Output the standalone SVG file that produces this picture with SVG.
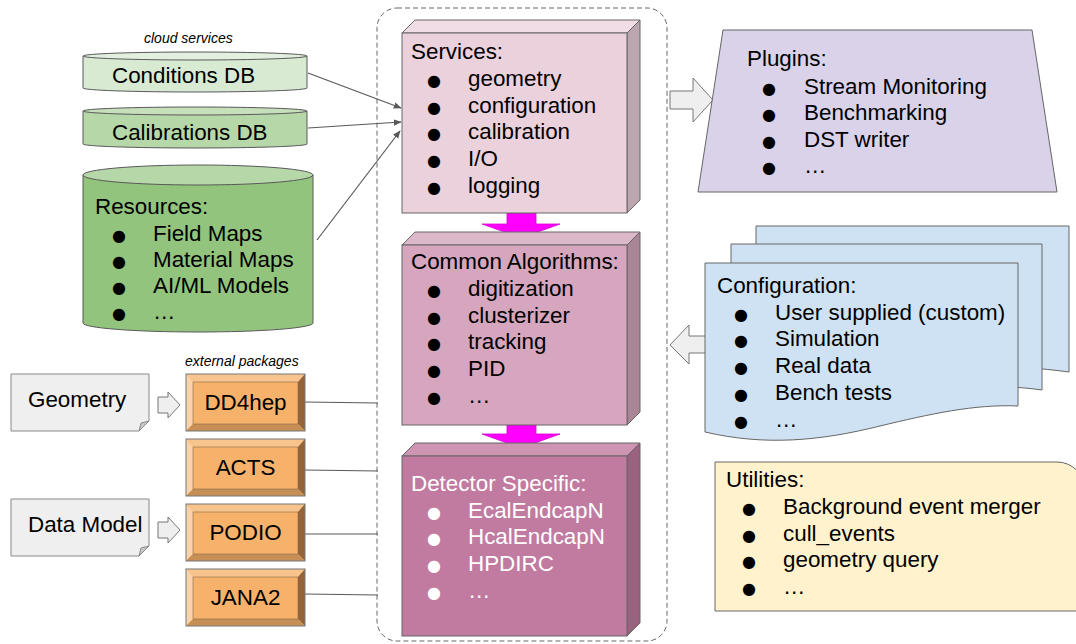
<svg xmlns="http://www.w3.org/2000/svg" width="1076" height="644" viewBox="0 0 1076 644">
<defs>
<style>
.t{font-family:"Liberation Sans",Arial,sans-serif;font-size:22.4px;fill:#000}
.w{fill:#fff}
.it{font-family:"Liberation Sans",Arial,sans-serif;font-size:14px;font-style:italic;fill:#000}
.b{font-family:"DejaVu Sans",sans-serif;font-size:16px}
.ln{stroke:#595959;stroke-width:1.2;fill:none}
.ed{stroke:#666;stroke-width:1}
.blk{fill:#efefef;stroke:#777;stroke-width:1}
.mag{fill:#ff00ff;stroke:#d000d0;stroke-width:0.8}
</style>
<marker id="ah" viewBox="0 0 10 10" refX="9" refY="5" markerWidth="8" markerHeight="8" markerUnits="userSpaceOnUse" orient="auto">
<path d="M0,1 L10,5 L0,9 Z" fill="#595959"/>
</marker>
</defs>
<rect width="1076" height="644" fill="#fff"/>

<g id="container">
<rect x="377" y="8" width="290" height="633" rx="20" fill="none" stroke="#666" stroke-width="1" stroke-dasharray="5,3"/>
</g>

<g id="connectors">
<line class="ln" x1="308" y1="73" x2="401" y2="108" marker-end="url(#ah)"/>
<line class="ln" x1="308" y1="128" x2="401" y2="122" marker-end="url(#ah)"/>
<line class="ln" x1="317" y1="240" x2="400" y2="131" marker-end="url(#ah)"/>
<line class="ln" x1="305" y1="402" x2="378" y2="403"/>
<line class="ln" x1="305" y1="470" x2="378" y2="471"/>
<line class="ln" x1="305" y1="534" x2="378" y2="534"/>
<line class="ln" x1="305" y1="594" x2="378" y2="595"/>
<polygon class="blk" points="158,397 168,397 168,392 180,405 168,418 168,413 158,413"/>
<polygon class="blk" points="158,522 168,522 168,517 180,530 168,543 168,538 158,538"/>
<polygon class="blk" points="670,91 693,91 693,78 713,100 693,122 693,109 670,109"/>
<polygon class="blk" points="670,345 689,325 689,336 706,336 706,353 689,353 689,364"/>
<polygon class="mag" points="507,213 536,213 536,224 560,224 521,238 482,224 507,224"/>
<polygon class="mag" points="507,425 536,425 536,434 560,434 521,448 482,434 507,434"/>
</g>

<g id="cloud-label"><text class="it" x="144" y="43">cloud services</text></g>

<g id="conditions-db">
<path d="M83,56 V88 A112,4 0 0 0 307,88 V56" fill="#d9ead3" stroke="#595959"/>
<ellipse cx="195" cy="56" rx="112" ry="4" fill="#e4f0df" stroke="#595959"/>
<text class="t" x="112" y="83">Conditions DB</text>
</g>

<g id="calibrations-db">
<path d="M83,111 V144 A112,4 0 0 0 307,144 V111" fill="#b6d7a8" stroke="#595959"/>
<ellipse cx="195" cy="111" rx="112" ry="4" fill="#c6e0bb" stroke="#595959"/>
<text class="t" x="112" y="140">Calibrations DB</text>
</g>

<g id="resources">
<path d="M83,175 V323 A115,9 0 0 0 313,323 V175" fill="#93c47d" stroke="#595959"/>
<ellipse cx="198" cy="175" rx="115" ry="10" fill="#b6d7a8" stroke="#595959"/>
<text class="t" x="95" y="214">Resources:</text>
<text class="b" x="112" y="241">●</text><text class="t" x="153" y="241">Field Maps</text>
<text class="b" x="112" y="267">●</text><text class="t" x="153" y="267">Material Maps</text>
<text class="b" x="112" y="293">●</text><text class="t" x="153" y="293">AI/ML Models</text>
<text class="b" x="112" y="319">●</text><text class="t" x="153" y="319">…</text>
</g>

<g id="services">
<polygon class="ed" points="402,33 415,20 640,20 627,33" fill="#f0dde6"/>
<polygon class="ed" points="627,33 640,20 640,200 627,213" fill="#bba6b0"/>
<rect class="ed" x="402" y="33" width="225" height="180" fill="#ead1dc"/>
<text class="t" x="411" y="59">Services:</text>
<text class="b" x="427" y="86">●</text><text class="t" x="468" y="86">geometry</text>
<text class="b" x="427" y="113">●</text><text class="t" x="468" y="113">configuration</text>
<text class="b" x="427" y="139">●</text><text class="t" x="468" y="139">calibration</text>
<text class="b" x="427" y="166">●</text><text class="t" x="468" y="166">I/O</text>
<text class="b" x="427" y="193">●</text><text class="t" x="468" y="193">logging</text>
</g>

<g id="common-algorithms">
<polygon class="ed" points="402,245 415,232 640,232 627,245" fill="#ddb8ca"/>
<polygon class="ed" points="627,245 640,232 640,412 627,425" fill="#aa8597"/>
<rect class="ed" x="402" y="245" width="225" height="180" fill="#d5a6bd"/>
<text class="t" x="411" y="269">Common Algorithms:</text>
<text class="b" x="427" y="296">●</text><text class="t" x="468" y="296">digitization</text>
<text class="b" x="427" y="323">●</text><text class="t" x="468" y="323">clusterizer</text>
<text class="b" x="427" y="349">●</text><text class="t" x="468" y="349">tracking</text>
<text class="b" x="427" y="376">●</text><text class="t" x="468" y="376">PID</text>
<text class="b" x="427" y="403">●</text><text class="t" x="468" y="403">…</text>
</g>

<g id="detector-specific">
<polygon class="ed" points="402,456 415,443 640,443 627,456" fill="#ce95b3"/>
<polygon class="ed" points="627,456 640,443 640,623 627,636" fill="#9b6280"/>
<rect class="ed" x="402" y="456" width="225" height="180" fill="#c27ba0"/>
<text class="t w" x="411" y="491">Detector Specific:</text>
<text class="b w" x="427" y="518">●</text><text class="t w" x="468" y="518">EcalEndcapN</text>
<text class="b w" x="427" y="544">●</text><text class="t w" x="468" y="544">HcalEndcapN</text>
<text class="b w" x="427" y="571">●</text><text class="t w" x="468" y="571">HPDIRC</text>
<text class="b w" x="427" y="598">●</text><text class="t w" x="468" y="598">…</text>
</g>

<g id="plugins">
<polygon points="723,30 1032,30 1057,192 698,192" fill="#d9d2e9" stroke="#666"/>
<text class="t" x="747" y="66">Plugins:</text>
<text class="b" x="762" y="94">●</text><text class="t" x="804" y="94">Stream Monitoring</text>
<text class="b" x="762" y="120">●</text><text class="t" x="804" y="120">Benchmarking</text>
<text class="b" x="762" y="147">●</text><text class="t" x="804" y="147">DST writer</text>
<text class="b" x="762" y="173">●</text><text class="t" x="804" y="173">…</text>
</g>

<g id="configuration">
<path d="M756,226 H1069 V372 C1040,368 1010,366 990,368 L756,368 Z" fill="#cfe2f3" stroke="#666"/>
<path d="M731,244 H1042 V390 C1015,386 990,386 960,390 L731,390 Z" fill="#cfe2f3" stroke="#666"/>
<path d="M705,263 H1018 V406 C975,404 930,414 880,426 C820,441 765,446 705,432 Z" fill="#cfe2f3" stroke="#666"/>
<text class="t" x="717" y="293">Configuration:</text>
<text class="b" x="734" y="320">●</text><text class="t" x="775" y="320">User supplied (custom)</text>
<text class="b" x="734" y="346">●</text><text class="t" x="775" y="346">Simulation</text>
<text class="b" x="734" y="373">●</text><text class="t" x="775" y="373">Real data</text>
<text class="b" x="734" y="400">●</text><text class="t" x="775" y="400">Bench tests</text>
<text class="b" x="734" y="427">●</text><text class="t" x="775" y="427">…</text>
</g>

<g id="utilities">
<path d="M715,462 H1057 A28,28 0 0 1 1085,490 V611 H715 Z" fill="#fff2cc" stroke="#666"/>
<text class="t" x="726" y="487">Utilities:</text>
<text class="b" x="742" y="514">●</text><text class="t" x="783" y="514">Background event merger</text>
<text class="b" x="742" y="541">●</text><text class="t" x="783" y="541">cull_events</text>
<text class="b" x="742" y="567">●</text><text class="t" x="783" y="567">geometry query</text>
<text class="b" x="742" y="594">●</text><text class="t" x="783" y="594">…</text>
</g>

<g id="external-label"><text class="it" x="185" y="366">external packages</text></g>

<g id="geometry-note">
<path d="M11,374 H149 V421 L139,431 H11 Z" fill="#efefef" stroke="#888"/>
<path d="M139,431 L141,423 L149,421 Z" fill="#c8c8c8" stroke="#888"/>
<text class="t" x="28" y="407">Geometry</text>
</g>

<g id="datamodel-note">
<path d="M11,499 H149 V546 L139,556 H11 Z" fill="#efefef" stroke="#888"/>
<path d="M139,556 L141,548 L149,546 Z" fill="#c8c8c8" stroke="#888"/>
<text class="t" x="28" y="532">Data Model</text>
</g>

<g id="dd4hep">
<rect x="186" y="374" width="119" height="57" fill="#f6b26b"/>
<polygon points="186,374 305,374 298,382 193,382" fill="#f8c48e"/>
<polygon points="186,374 193,382 193,424 186,431" fill="#fad3ab"/>
<polygon points="305,374 305,431 298,424 298,382" fill="#93643a"/>
<polygon points="186,431 193,424 298,424 305,431" fill="#c68f55"/>
<rect x="186" y="374" width="119" height="57" fill="none" stroke="#777"/>
<rect x="193" y="382" width="105" height="42" fill="none" stroke="#8a6a4a" stroke-width="0.6"/>
<text class="t" x="245.5" y="410" text-anchor="middle">DD4hep</text>
</g>

<g id="acts">
<rect x="186" y="439" width="119" height="57" fill="#f6b26b"/>
<polygon points="186,439 305,439 298,447 193,447" fill="#f8c48e"/>
<polygon points="186,439 193,447 193,489 186,496" fill="#fad3ab"/>
<polygon points="305,439 305,496 298,489 298,447" fill="#93643a"/>
<polygon points="186,496 193,489 298,489 305,496" fill="#c68f55"/>
<rect x="186" y="439" width="119" height="57" fill="none" stroke="#777"/>
<rect x="193" y="447" width="105" height="42" fill="none" stroke="#8a6a4a" stroke-width="0.6"/>
<text class="t" x="245.5" y="475" text-anchor="middle">ACTS</text>
</g>

<g id="podio">
<rect x="186" y="504" width="119" height="57" fill="#f6b26b"/>
<polygon points="186,504 305,504 298,512 193,512" fill="#f8c48e"/>
<polygon points="186,504 193,512 193,554 186,561" fill="#fad3ab"/>
<polygon points="305,504 305,561 298,554 298,512" fill="#93643a"/>
<polygon points="186,561 193,554 298,554 305,561" fill="#c68f55"/>
<rect x="186" y="504" width="119" height="57" fill="none" stroke="#777"/>
<rect x="193" y="512" width="105" height="42" fill="none" stroke="#8a6a4a" stroke-width="0.6"/>
<text class="t" x="245.5" y="540" text-anchor="middle">PODIO</text>
</g>

<g id="jana2">
<rect x="186" y="569" width="119" height="57" fill="#f6b26b"/>
<polygon points="186,569 305,569 298,577 193,577" fill="#f8c48e"/>
<polygon points="186,569 193,577 193,619 186,626" fill="#fad3ab"/>
<polygon points="305,569 305,626 298,619 298,577" fill="#93643a"/>
<polygon points="186,626 193,619 298,619 305,626" fill="#c68f55"/>
<rect x="186" y="569" width="119" height="57" fill="none" stroke="#777"/>
<rect x="193" y="577" width="105" height="42" fill="none" stroke="#8a6a4a" stroke-width="0.6"/>
<text class="t" x="245.5" y="605" text-anchor="middle">JANA2</text>
</g>
</svg>
